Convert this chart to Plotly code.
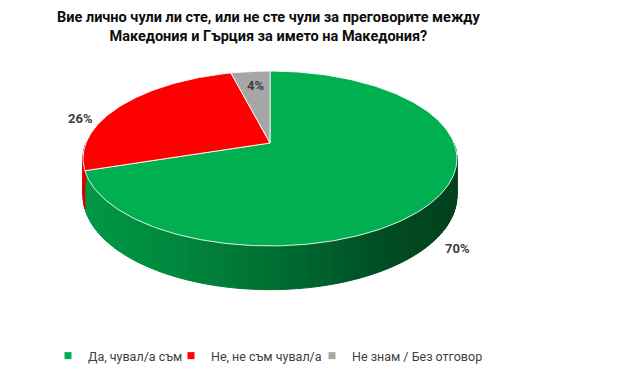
import numpy as np
import plotly.graph_objects as go

# ---- data ----
categories = ["Да, чувал/а съм", "Не, не съм чувал/а", "Не знам / Без отговор"]
values = [70, 26, 4]
colors = ["#00B050", "#FF0000", "#A6A6A6"]
title_lines = ["Вие лично чули ли сте, или не сте чули за преговорите между",
               "Македония и Гърция за името на Македония?"]

# ---- page / geometry (screen pixel space) ----
W, Hgt = 623, 380
OFF = 8                    # default body margin of the html page
CX, CY = 270.0, 143.0      # pie centre on screen
A, B = 184.0, 84.7         # horizontal / vertical radius
DEPTH = 36.0               # thickness
K = 0.177                  # perspective strength


def proj(theta, r=1.0, z=0.0):
    t = np.radians(theta)
    u = r * np.sin(t)
    v = r * np.cos(t)
    s = 1.0 / (1.0 + K * v)
    return CX + A * u * s, CY - B * v * s + z * DEPTH * s


def hex2rgb(h):
    h = h.lstrip("#")
    return tuple(int(h[i:i + 2], 16) for i in (0, 2, 4))


def side_color(base, x):
    f = np.interp(x, [85, 180, 270, 330, 380, 457], [0.86, 0.77, 0.63, 0.54, 0.44, 0.37])
    r, g, b = hex2rgb(base)
    return "rgb(%d,%d,%d)" % (r * f, g * f, b * f)


total = float(sum(values))
starts = np.concatenate([[0.0], np.cumsum(values)[:-1]]) / total * 360.0
ends = np.cumsum(values) / total * 360.0

fig = go.Figure()

# side walls (visible front half: 90..270 deg clockwise from top)
for val, c, a0, a1 in zip(values, colors, starts, ends):
    lo, hi = max(a0, 90.0), min(a1, 270.0)
    if hi <= lo:
        continue
    n = max(1, int(np.ceil((hi - lo) / 2.0)))
    edges = np.linspace(lo, hi, n + 1)
    for t1, t2 in zip(edges[:-1], edges[1:]):
        xa, ya = proj(t1)
        xb, yb = proj(t2)
        xc, yc = proj(t2, z=1)
        xd, yd = proj(t1, z=1)
        col = side_color(c, (xa + xb) / 2)
        fig.add_trace(go.Scatter(
            x=[xa, xb, xc, xd, xa], y=[ya, yb, yc, yd, ya],
            mode="lines", fill="toself", fillcolor=col,
            line=dict(color=col, width=1), hoverinfo="skip", showlegend=False))

# top faces
for cat, val, c, a0, a1 in zip(categories, values, colors, starts, ends):
    th = np.linspace(a0, a1, max(3, int((a1 - a0) / 1.0) + 2))
    xs, ys = proj(th)
    x = np.concatenate([[CX], xs, [CX]])
    y = np.concatenate([[CY], ys, [CY]])
    fig.add_trace(go.Scatter(
        x=x, y=y, mode="lines", fill="toself", fillcolor=c,
        line=dict(color="rgba(255,255,255,0.85)", width=1),
        hoverinfo="skip", showlegend=False))

# legend entries, each in its own legend box
FW, FH = W - 2 * OFF, Hgt - 2 * OFF
legend_names = ["legend", "legend2", "legend3"]
legend_x = [48, 171, 312]          # screen px of each legend box's left edge
legend_y = 356                     # screen px of legend row centre
for cat, c, ln in zip(categories, colors, legend_names):
    fig.add_trace(go.Scatter(
        x=[None], y=[None], mode="markers", name=cat, legend=ln,
        marker=dict(symbol="square", size=7, color=c)))

legend_style = dict(orientation="h", xanchor="left", yanchor="middle",
                    y=(Hgt - OFF - legend_y) / FH,
                    font=dict(family="Roboto, sans-serif", size=12.5, color="#404040"),
                    itemwidth=30, bgcolor="rgba(0,0,0,0)")
legends = {ln: dict(legend_style, x=(lx - OFF) / FW) for ln, lx in zip(legend_names, legend_x)}

# percentage labels
label_pos = [(457, 248), (80, 118), (255, 85)]
for val, (lx, ly) in zip(values, label_pos):
    fig.add_annotation(x=lx, y=ly, text="<b>%d%%</b>" % val, showarrow=False,
                       font=dict(family="Roboto, sans-serif", size=13, color="#404040"),
                       xanchor="center", yanchor="middle")

# title
fig.add_annotation(x=268, y=26.5, text="<b>" + "<br>".join(title_lines) + "</b>",
                   showarrow=False, align="center",
                   font=dict(family="Roboto, sans-serif", size=14.5, color="#0d0d0d"),
                   xanchor="center", yanchor="middle")

fig.update_layout(
    width=FW, height=FH, autosize=False,
    margin=dict(l=0, r=0, t=0, b=0),
    paper_bgcolor="white", plot_bgcolor="white",
    xaxis=dict(range=[OFF, W - OFF], visible=False, fixedrange=True),
    yaxis=dict(range=[Hgt - OFF, OFF], visible=False, fixedrange=True),
    showlegend=True,
    **legends,
)

fig.write_html("out.html")
